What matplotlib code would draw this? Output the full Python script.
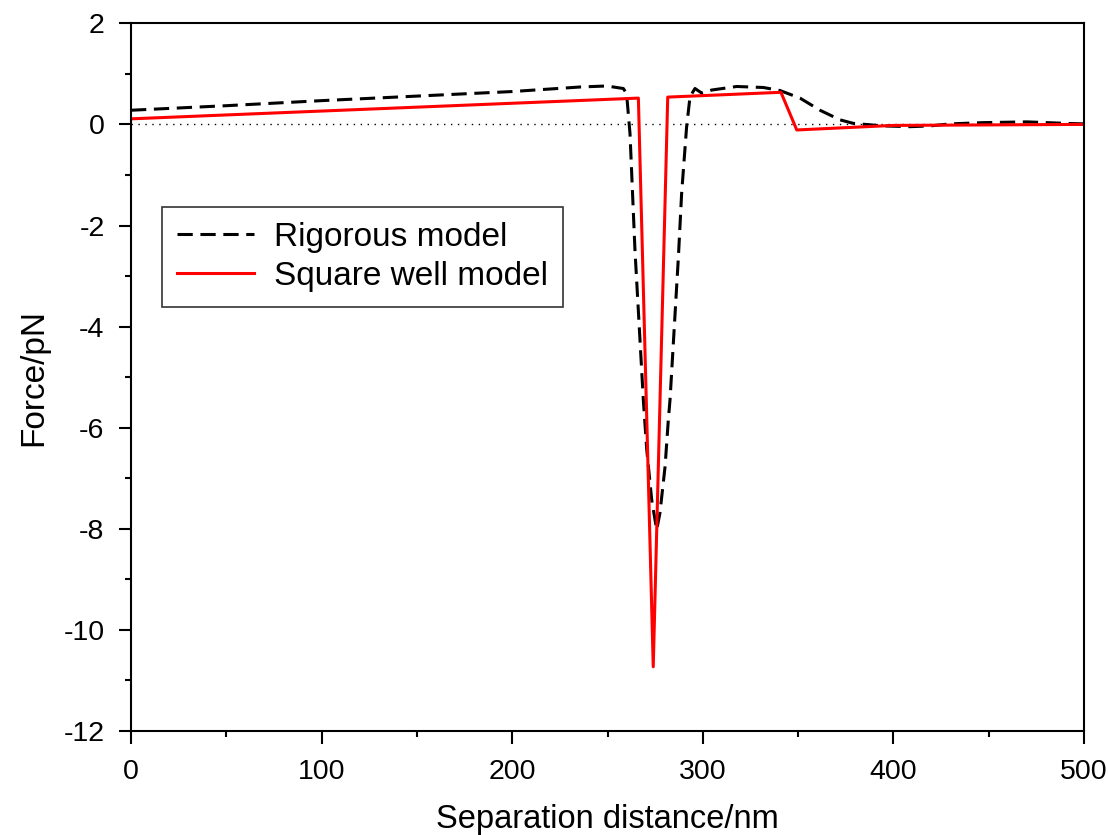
import numpy as np
import matplotlib.pyplot as plt
from matplotlib.ticker import MultipleLocator

plt.rcParams['font.family'] = ['Liberation Sans', 'DejaVu Sans']
plt.rcParams['axes.unicode_minus'] = False

# rigorous model
x_rig = [0, 50, 100, 150, 200, 235.6, 249.6, 258.3, 260, 261.8, 264.4, 268.8, 270.6,
         273.2, 275.8, 277.5, 280.2, 281.9, 282.8, 287.2, 288.9, 291.5, 293.3, 295.9,
         299.4, 304.7, 317.8, 331.8, 340.5, 351, 361.5, 372, 379, 394.7, 408.7, 419.2,
         429.7, 447.2, 470, 491, 500]
f_rig = [0.28, 0.37, 0.47, 0.56, 0.65, 0.74, 0.76, 0.71, 0.61, -0.18, -2.48, -5.45, -6.44,
         -7.43, -8.02, -7.69, -6.77, -5.85, -5.45, -2.62, -1.36, -0.05, 0.55, 0.71,
         0.62, 0.68, 0.75, 0.73, 0.67, 0.52, 0.28, 0.09, 0.02, -0.03, -0.045, -0.03,
         0.01, 0.035, 0.05, 0.02, 0.01]

# square well model
x_sq = [0, 266.2, 274.0, 281.6, 341.0, 349.3, 400, 500]
f_sq = [0.11, 0.52, -10.73, 0.54, 0.635, -0.11, -0.02, 0.0]

fig = plt.figure(figsize=(11.08, 8.35), dpi=100)
ax = fig.add_axes([131/1108, 1 - 731/835, (1084-131)/1108, (731-23.3)/835])

ax.axhline(0, color='black', lw=1.0, ls=(0, (1, 4)))
ax.plot(x_rig, f_rig, color='black', lw=2.2, ls=(0, (5, 2.5)), label='Rigorous model')
ax.plot(x_sq, f_sq, color='red', lw=2.2, label='Square well model')

ax.set_xlim(0, 500)
ax.set_ylim(-12, 2)
ax.xaxis.set_major_locator(MultipleLocator(100))
ax.xaxis.set_minor_locator(MultipleLocator(50))
ax.yaxis.set_major_locator(MultipleLocator(2))
ax.yaxis.set_minor_locator(MultipleLocator(1))
ax.tick_params(which='major', direction='out', length=9, width=1.5, labelsize=20.5)
ax.tick_params(axis='x', which='major', pad=11.5)
ax.tick_params(axis='y', which='major', pad=10)
ax.tick_params(which='minor', direction='out', length=4.5, width=1.5)
for s in ax.spines.values():
    s.set_linewidth(1.5)

ax.set_xlabel('Separation distance/nm', fontsize=23.5, labelpad=13)
ax.set_ylabel('Force/pN', fontsize=24, labelpad=10)

leg = ax.legend(loc='upper left', bbox_to_anchor=(0.033, 0.741), fontsize=24,
                frameon=True, fancybox=False, edgecolor='black', handlelength=2.3,
                handletextpad=0.6, borderpad=0.45, labelspacing=0.25, borderaxespad=0)
leg.get_frame().set_linewidth(1.2)

plt.savefig('out.png', dpi=100)
